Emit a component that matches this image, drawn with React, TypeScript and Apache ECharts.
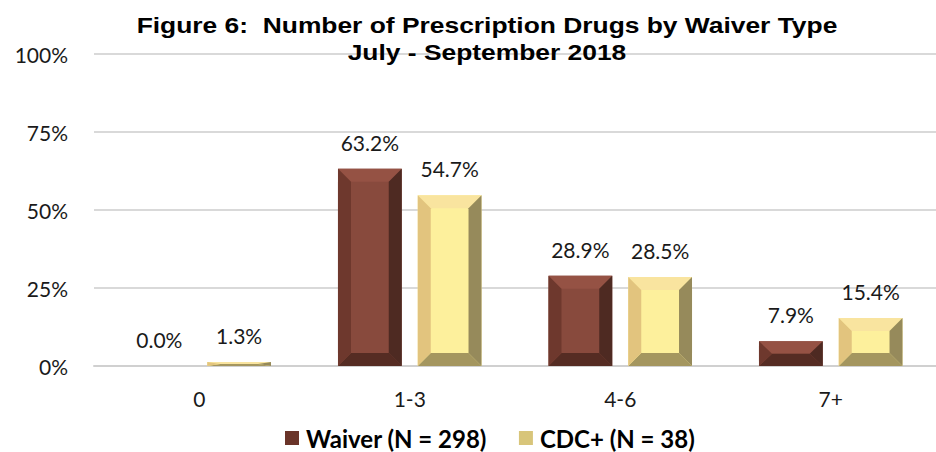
import React, { useEffect, useRef } from "react";
import * as echarts from "echarts";

const categories = ["0", "1-3", "4-6", "7+"];
const waiverValues = [0.0, 63.2, 28.9, 7.9];
const cdcValues = [1.3, 54.7, 28.5, 15.4];
const seriesNames = ["Waiver (N = 298)", "CDC+ (N = 38)"];
const yTicks = [0, 25, 50, 75, 100];
const titleLines = ["Figure 6:  Number of Prescription Drugs by Waiver Type", "July - September 2018"];

const LABEL_FONT = "Lato, 'Open Sans', sans-serif";
const TITLE_FONT = "'Liberation Sans', Arial, sans-serif";

type Palette = { face: string; top: string; left: string; right: string; bottom: string };

const waiverPalette: Palette = {
  face: "#884a3d",
  top: "#955244",
  left: "#6e382d",
  right: "#4e2a22",
  bottom: "#552c23",
};
const cdcPalette: Palette = {
  face: "#fdf09c",
  top: "#f9e49f",
  left: "#e2c47e",
  right: "#968a5b",
  bottom: "#a4965f",
};

function makeRenderItem(side: number, pal: Palette) {
  return (params: any, api: any) => {
    const cat = api.value(0);
    const val = api.value(1);
    const base = api.coord([cat, 0]);
    const topPt = api.coord([cat, val]);
    const band = api.size([1, 0])[0];
    const barW = band * 0.303;
    const halfGap = band * 0.038;
    const cx = base[0];
    const x0 = side < 0 ? cx - halfGap - barW : cx + halfGap;
    const x1 = x0 + barW;
    const y1 = base[1];
    const y0 = topPt[1];
    const h = y1 - y0;
    const bh = Math.min(13, barW / 2);
    const bv = Math.min(13, h / 2);
    const children: any[] = [];
    if (h > 0.3) {
      children.push(
        { type: "rect", shape: { x: x0, y: y0, width: barW, height: h }, style: { fill: pal.face } },
        { type: "polygon", shape: { points: [[x0, y0], [x1, y0], [x1 - bh, y0 + bv], [x0 + bh, y0 + bv]] }, style: { fill: pal.top } },
        { type: "polygon", shape: { points: [[x0, y1], [x1, y1], [x1 - bh, y1 - bv], [x0 + bh, y1 - bv]] }, style: { fill: pal.bottom } },
        { type: "polygon", shape: { points: [[x0, y0], [x0 + bh, y0 + bv], [x0 + bh, y1 - bv], [x0, y1]] }, style: { fill: pal.left } },
        { type: "polygon", shape: { points: [[x1, y0], [x1 - bh, y0 + bv], [x1 - bh, y1 - bv], [x1, y1]] }, style: { fill: pal.right } }
      );
    }
    children.push({
      type: "text",
      style: {
        text: `${Number(val).toFixed(1)}%`,
        x: (x0 + x1) / 2,
        y: y0 - 16,
        align: "center",
        verticalAlign: "bottom",
        fontSize: 21,
        fontFamily: LABEL_FONT,
        fill: "#1a1a1a",
      },
    });
    return { type: "group", children };
  };
}

export default function App() {
  const ref = useRef<HTMLDivElement>(null);
  useEffect(() => {
    if (!ref.current) return;
    const chart = echarts.init(ref.current, null, { renderer: "svg" });
    chart.setOption({
      animation: false,
      backgroundColor: "#ffffff",
      graphic: [
        {
          type: "text",
          x: 487,
          y: 12,
          scaleX: 1.2,
          z: 10,
          style: {
            text: titleLines.join("\n"),
            align: "center",
            textAlign: "center",
            verticalAlign: "top",
            textVerticalAlign: "top",
            fontFamily: TITLE_FONT,
            fontSize: 22,
            fontWeight: "bold",
            lineHeight: 27,
            fill: "#000",
          },
        },
      ],
      legend: {
        left: 285,
        top: 426,
        padding: 0,
        icon: "rect",
        itemWidth: 14,
        itemHeight: 14,
        itemGap: 32,
        data: [
          { name: seriesNames[0], itemStyle: { color: "#6a3429" } },
          { name: seriesNames[1], itemStyle: { color: "#d8c57a" } },
        ],
        textStyle: { fontFamily: LABEL_FONT, fontSize: 24, fontWeight: "bold", color: "#000", padding: [0, 0, 0, 2] },
      },
      grid: { left: 94, top: 54, width: 857, height: 312 },
      xAxis: {
        type: "category",
        data: categories,
        axisTick: { show: false },
        axisLine: { lineStyle: { color: "#d0d0d0", width: 2 } },
        axisLabel: { fontFamily: LABEL_FONT, fontSize: 21, color: "#1a1a1a", margin: 22 },
      },
      yAxis: {
        type: "value",
        min: yTicks[0],
        max: yTicks[yTicks.length - 1],
        interval: 25,
        axisLabel: { formatter: "{value}%", fontFamily: LABEL_FONT, fontSize: 21, color: "#1a1a1a", margin: 26 },
        splitLine: { lineStyle: { color: "#d9d9d9", width: 2 } },
        axisLine: { show: false },
        axisTick: { show: false },
      },
      series: [
        {
          type: "custom",
          name: seriesNames[0],
          itemStyle: { color: waiverPalette.face },
          renderItem: makeRenderItem(-1, waiverPalette),
          data: waiverValues.map((v, i) => [i, v]),
          clip: false,
        },
        {
          type: "custom",
          name: seriesNames[1],
          itemStyle: { color: cdcPalette.face },
          renderItem: makeRenderItem(1, cdcPalette),
          data: cdcValues.map((v, i) => [i, v]),
          clip: false,
        },
      ],
    });
    return () => chart.dispose();
  }, []);
  return (
    <div
      ref={ref}
      style={{ position: "fixed", left: 0, top: 0, width: 936, height: 452, background: "#fff" }}
    />
  );
}
